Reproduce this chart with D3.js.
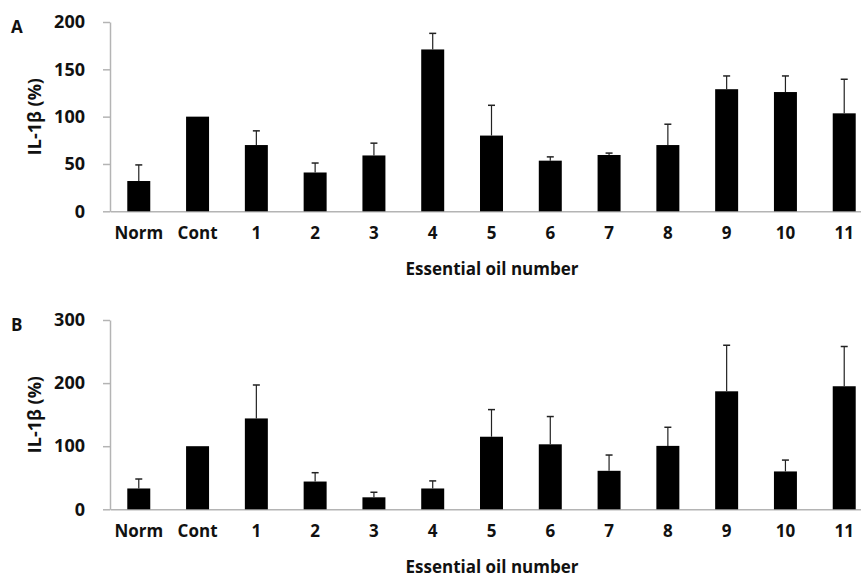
<!DOCTYPE html>
<html>
<head>
<meta charset="utf-8">
<script src="https://cdn.jsdelivr.net/npm/d3@7"></script>
<style>
  html, body { margin: 0; padding: 0; background: #fff; }
  svg { display: block; }
  text { font-family: "Open Sans", "Noto Sans", sans-serif; font-weight: 700; fill: #111; }
</style>
</head>
<body>
<svg id="chart" width="861" height="577"></svg>
<script>
// Sample groups along the x axis
const categories = ["Norm", "Cont", "1", "2", "3", "4", "5", "6", "7", "8", "9", "10", "11"];

// Panel A: IL-1β level (% of control) and standard deviation
const valuesA = [32, 100, 70, 41, 59, 171, 80, 53.5, 59.5, 70, 129, 126, 103.5];
const errorsA = [17, 0, 15, 10, 13, 17, 32, 4, 2, 22, 14, 17, 36];
const ticksA = [0, 50, 100, 150, 200];

// Panel B: IL-1β level (% of control) and standard deviation
const valuesB = [33, 100, 144, 44, 19, 33, 115, 103, 61, 100.5, 187, 60, 195];
const errorsB = [15, 0, 53, 14, 8, 12, 43, 44, 25, 29.5, 73, 18, 63];
const ticksB = [0, 100, 200, 300];

const yTitle = "IL-1β (%)";
const xTitle = "Essential oil number";

const svg = d3.select("#chart");
const axisColor = "#b4b4b4";
const axisX = 110;

const x = d3.scaleBand()
  .domain(categories)
  .range([axisX, 873])
  .paddingInner(0.609)
  .paddingOuter(0.294);

function panel(cfg) {
  const g = svg.append("g");
  const y = d3.scaleLinear().domain(cfg.domain).range([cfg.bottom, cfg.top]);

  // Panel letter
  g.append("text")
    .attr("x", 11).attr("y", cfg.top + 5)
    .attr("dy", "0.35em")
    .style("font-size", "17px")
    .text(cfg.letter);

  // Y axis
  const yAxis = d3.axisLeft(y).tickValues(cfg.ticks).tickSize(7).tickPadding(18).tickSizeOuter(0);
  const ya = g.append("g").attr("transform", `translate(${axisX},0)`).call(yAxis);
  ya.select(".domain").attr("stroke", axisColor).attr("stroke-width", 1.5);
  ya.selectAll(".tick line").attr("stroke", axisColor).attr("stroke-width", 1.5);
  ya.selectAll(".tick text")
    .attr("fill", "#111")
    .style("font-size", "18px")
    .style("font-family", "'Open Sans', sans-serif")
    .style("font-weight", 700);

  // X axis baseline with category labels
  const xAxis = d3.axisBottom(x).tickSize(0).tickPadding(16).tickSizeOuter(0);
  const xa = g.append("g").attr("transform", `translate(0,${cfg.bottom})`).call(xAxis);
  xa.select(".domain").attr("stroke", axisColor).attr("stroke-width", 1.5);
  xa.selectAll(".tick text")
    .attr("fill", "#111")
    .style("font-size", "17px")
    .style("font-family", "'Open Sans', sans-serif")
    .style("font-weight", 700);

  // Bars
  g.selectAll("rect.bar")
    .data(categories)
    .join("rect")
    .attr("class", "bar")
    .attr("x", d => x(d))
    .attr("width", x.bandwidth())
    .attr("y", (d, i) => y(cfg.values[i]))
    .attr("height", (d, i) => y(0) - y(cfg.values[i]))
    .attr("fill", "#000");

  // Upper error bars
  const eb = g.selectAll("g.err")
    .data(categories.map((c, i) => ({ c, v: cfg.values[i], e: cfg.errors[i] })).filter(d => d.e > 0))
    .join("g")
    .attr("class", "err");
  eb.append("line")
    .attr("x1", d => x(d.c) + x.bandwidth() / 2)
    .attr("x2", d => x(d.c) + x.bandwidth() / 2)
    .attr("y1", d => y(d.v))
    .attr("y2", d => y(d.v + d.e))
    .attr("stroke", "#222").attr("stroke-width", 1.2);
  eb.append("line")
    .attr("x1", d => x(d.c) + x.bandwidth() / 2 - 3.5)
    .attr("x2", d => x(d.c) + x.bandwidth() / 2 + 3.5)
    .attr("y1", d => y(d.v + d.e))
    .attr("y2", d => y(d.v + d.e))
    .attr("stroke", "#222").attr("stroke-width", 1.5);

  // Axis titles
  g.append("text")
    .attr("transform", `translate(35,${(cfg.top + cfg.bottom) / 2}) rotate(-90)`)
    .attr("text-anchor", "middle")
    .attr("dy", "0.35em")
    .style("font-size", "18px")
    .text(yTitle);

  g.append("text")
    .attr("x", 492).attr("y", cfg.bottom + 58)
    .attr("text-anchor", "middle")
    .attr("dy", "0.35em")
    .style("font-size", "17px")
    .text(xTitle);
}

panel({ letter: "A", values: valuesA, errors: errorsA, ticks: ticksA, domain: [0, 200], top: 22, bottom: 211.3 });
panel({ letter: "B", values: valuesB, errors: errorsB, ticks: ticksB, domain: [0, 300], top: 320, bottom: 509.3 });
</script>
</body>
</html>
